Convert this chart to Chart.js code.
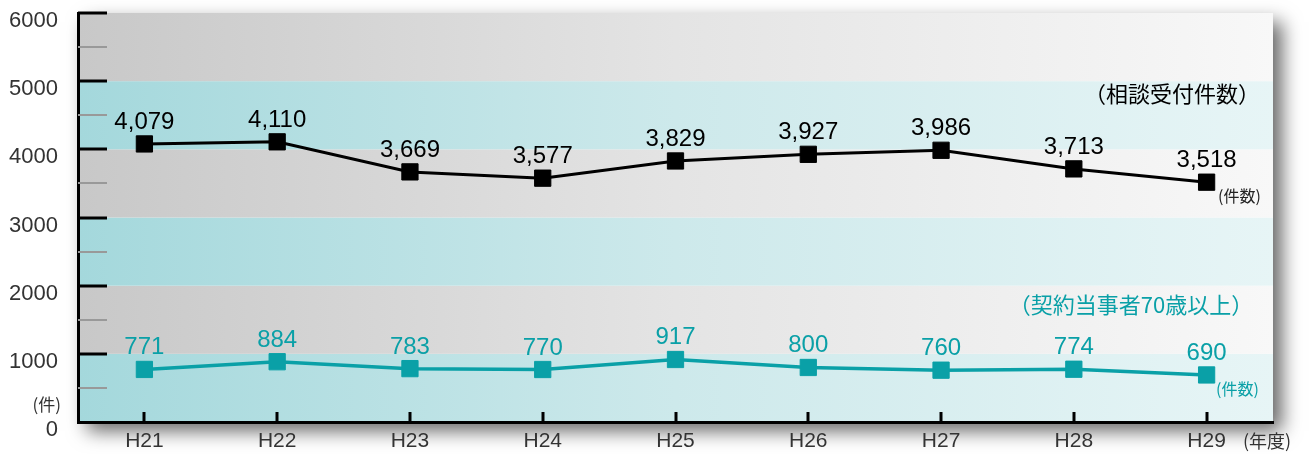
<!DOCTYPE html>
<html>
<head>
<meta charset="utf-8">
<script src="https://cdn.jsdelivr.net/npm/chart.js@4/dist/chart.umd.min.js"></script>
<style>
  body { margin: 0; background: #fff; }
  #grafico { display: block; }
</style>
</head>
<body>
<canvas id="grafico" width="1309" height="454"></canvas>
<script>
// datos
var anios = ["H21", "H22", "H23", "H24", "H25", "H26", "H27", "H28", "H29"];
var consultas = [4079, 4110, 3669, 3577, 3829, 3927, 3986, 3713, 3518];
var mayores70 = [771, 884, 783, 770, 917, 800, 760, 774, 690];
var etiquetaConsultas = "（相談受付件数）";
var etiquetaMayores = "（契約当事者70歳以上）";

var NEGRO = '#000000';
var TEAL = '#0aa0a7';
var FUENTE = '"Liberation Sans", Arial, sans-serif';
var FUENTE_JP = '"Noto Sans CJK JP", sans-serif';

// fondo con bandas + sombra
var fondoPlugin = {
    id: 'fondo',
    beforeDraw: function (chart) {
        var ctx = chart.ctx;
        var a = chart.chartArea;
        var y = chart.scales.y;

        ctx.save();
        ctx.shadowColor = 'rgba(0,0,0,0.6)';
        ctx.shadowBlur = 18;
        ctx.shadowOffsetX = 9;
        ctx.shadowOffsetY = 9;
        ctx.fillStyle = '#fff';
        ctx.fillRect(a.left, a.top, a.right - a.left, a.bottom - a.top);
        ctx.restore();

        for (var i = 0; i < 6; i++) {
            var y0 = y.getPixelForValue(i * 1000);
            var y1 = y.getPixelForValue((i + 1) * 1000);
            var g = ctx.createLinearGradient(a.left, 0, a.right, 0);
            if (i % 2 === 0) {
                g.addColorStop(0, '#a4d8dc');
                g.addColorStop(0.5, '#cde9eb');
                g.addColorStop(1, '#e7f5f6');
            } else {
                g.addColorStop(0, '#c8c8c8');
                g.addColorStop(0.5, '#e4e4e4');
                g.addColorStop(1, '#f8f8f8');
            }
            ctx.fillStyle = g;
            ctx.fillRect(a.left, y1, a.right - a.left, y0 - y1);
        }
    },
    afterDraw: function (chart) {
        var ctx = chart.ctx;
        var a = chart.chartArea;
        var y = chart.scales.y;
        var x = chart.scales.x;

        ctx.save();
        // marcas del eje y (hacia adentro)
        for (var v = 500; v <= 6000; v += 500) {
            var py = Math.round(y.getPixelForValue(v));
            ctx.beginPath();
            if (v % 1000 === 0) {
                ctx.strokeStyle = '#000';
                ctx.lineWidth = 3;
            } else {
                ctx.strokeStyle = '#999';
                ctx.lineWidth = 2;
            }
            ctx.moveTo(a.left, py);
            ctx.lineTo(a.left + 29, py);
            ctx.stroke();
        }
        // marcas del eje x
        ctx.strokeStyle = '#000';
        ctx.lineWidth = 3;
        for (var i = 0; i < anios.length; i++) {
            var px = Math.round(x.getPixelForValue(i));
            ctx.beginPath();
            ctx.moveTo(px, a.bottom);
            ctx.lineTo(px, a.bottom - 10);
            ctx.stroke();
        }

        // textos
        ctx.textBaseline = 'middle';
        ctx.textAlign = 'center';
        ctx.fillStyle = '#000';
        ctx.font = '22px ' + FUENTE_JP;
        ctx.fillText(etiquetaConsultas, 1172, 94);
        ctx.fillStyle = TEAL;
        ctx.fillText(etiquetaMayores, 1131, 305);

        ctx.font = '16px ' + FUENTE_JP;
        ctx.textAlign = 'left';
        ctx.fillStyle = '#222';
        ctx.fillText('(件数)', 1218, 196);
        ctx.fillStyle = TEAL;
        ctx.fillText('(件数)', 1216, 389);

        ctx.fillStyle = '#333';
        ctx.font = '17px ' + FUENTE_JP;
        ctx.textAlign = 'right';
        ctx.fillText('(件)', 61, 405);
        ctx.font = '18px ' + FUENTE_JP;
        ctx.textAlign = 'left';
        ctx.fillText('(年度)', 1243, 441);
        ctx.restore();
    },
    afterDatasetsDraw: function (chart) {
        var ctx = chart.ctx;
        ctx.save();
        ctx.textAlign = 'center';
        ctx.textBaseline = 'alphabetic';
        ctx.font = '24px ' + FUENTE;
        chart.data.datasets.forEach(function (ds, d) {
            var meta = chart.getDatasetMeta(d);
            ctx.fillStyle = ds.borderColor;
            meta.data.forEach(function (p, k) {
                ctx.fillText(ds.data[k].toLocaleString('en-US'), p.x, p.y - 15);
            });
        });
        ctx.restore();
    }
};

function sinPadding(s) {
    s.paddingTop = 0;
    s.paddingBottom = 0;
    s.paddingLeft = 0;
    s.paddingRight = 0;
}

var ctx = document.getElementById('grafico').getContext('2d');
var chart = new Chart(ctx, {
    type: 'line',
    data: {
        labels: anios,
        datasets: [{
            label: '相談受付件数',
            data: consultas,
            borderColor: NEGRO,
            backgroundColor: NEGRO,
            borderWidth: 3,
            pointStyle: 'rect',
            pointRadius: 11.5,
            pointBorderWidth: 1,
            tension: 0
        }, {
            label: '契約当事者70歳以上',
            data: mayores70,
            borderColor: TEAL,
            backgroundColor: TEAL,
            borderWidth: 3.5,
            pointStyle: 'rect',
            pointRadius: 11.5,
            pointBorderWidth: 1,
            tension: 0
        }]
    },
    options: {
        responsive: false,
        animation: false,
        layout: { padding: { top: 13, right: 36, left: 0, bottom: 0 } },
        plugins: {
            legend: { display: false },
            tooltip: { enabled: false }
        },
        scales: {
            x: {
                offset: true,
                grid: { display: true, drawOnChartArea: false, drawTicks: false },
                border: { display: true, color: '#000', width: 3 },
                ticks: { color: '#333', font: { family: FUENTE, size: 21 }, padding: 7 },
                afterFit: function (s) { s.height = 32; sinPadding(s); }
            },
            y: {
                min: 0,
                max: 6000,
                grid: { display: true, drawOnChartArea: false, drawTicks: false },
                border: { display: true, color: '#000', width: 3 },
                ticks: {
                    stepSize: 1000,
                    color: '#333',
                    font: { family: FUENTE, size: 22 },
                    padding: 20,
                    labelOffset: 8,
                    callback: function (v) { return String(v); }
                },
                afterFit: function (s) { s.width = 78; sinPadding(s); }
            }
        }
    },
    plugins: [fondoPlugin]
});
</script>
</body>
</html>
